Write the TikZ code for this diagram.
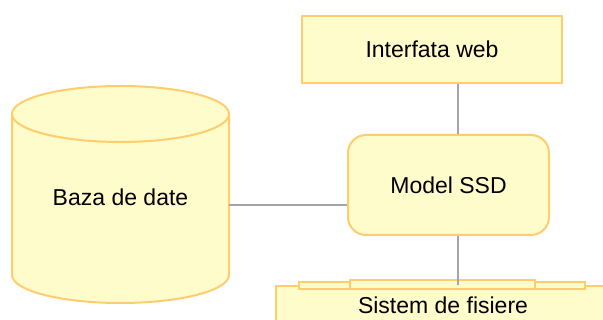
\documentclass[tikz,border=0pt]{standalone}
\usepackage{fontspec}
\setmainfont{Liberation Sans}
\usepackage{xcolor}
\usepackage{tikz}
\usetikzlibrary{calc, positioning}

\definecolor{boxfill}{RGB}{255,252,204}
\definecolor{boxline}{RGB}{255,204,110}
\definecolor{linkgray}{RGB}{165,165,165}

\begin{document}
\begin{tikzpicture}[x=0.5pt, y=0.5pt,
    box/.style={draw=boxline, line width=1pt, fill=boxfill, font=\fontsize{11.5}{13}\selectfont},
    link/.style={draw=linkgray, line width=1pt}]

    % =================================================================
    % 1. KHUNG HINH
    % =================================================================
    \useasboundingbox (0,0) rectangle (603,320);
    \clip (0,0) rectangle (603,320);

    % Cac toa do phu cho duong noi
    \coordinate (bus) at (458,0);
    \coordinate (dbside) at (229,115);

    % =================================================================
    % 2. CO SO DU LIEU (hinh tru)
    % =================================================================
    \draw[box] (12,206) -- (12,45)
        arc[start angle=180, end angle=360, x radius=108.5, y radius=28]
        -- (229,206)
        arc[start angle=0, end angle=180, x radius=108.5, y radius=28] -- cycle;
    \draw[draw=boxline, line width=1pt] (12,206)
        arc[start angle=180, end angle=360, x radius=108.5, y radius=28];
    \node[font=\fontsize{11.5}{13}\selectfont] (db) at (120.5,123) {Baza de date};

    % =================================================================
    % 3. CAC KHOI
    % =================================================================
    \node[box, minimum width=130pt, minimum height=33.5pt] (web) at (432,270.5) {Interfata web};
    \node[box, rounded corners=9pt, minimum width=100.5pt, minimum height=50pt] (model) at (448.5,135) {Model SSD};

    % He thong tep (cac lop xep chong)
    \node[box, inner sep=1pt, minimum width=182pt, minimum height=19pt] (files) at (458,15) {};
    \draw[box] (299,38) rectangle (585,31);
    \draw[box] (350,40) rectangle (535,31);
    \node[font=\fontsize{11.5}{13}\selectfont] (filestext) at (443,15) {Sistem de fisiere};

    % =================================================================
    % 4. DUONG NOI
    % =================================================================
    \draw[link] (web.south -| bus) -- (model.north -| bus);
    \draw[link] (model.south -| bus) -- (files.north -| bus);
    \draw[link] (dbside) -- (model.west |- dbside);

\end{tikzpicture}
\end{document}
